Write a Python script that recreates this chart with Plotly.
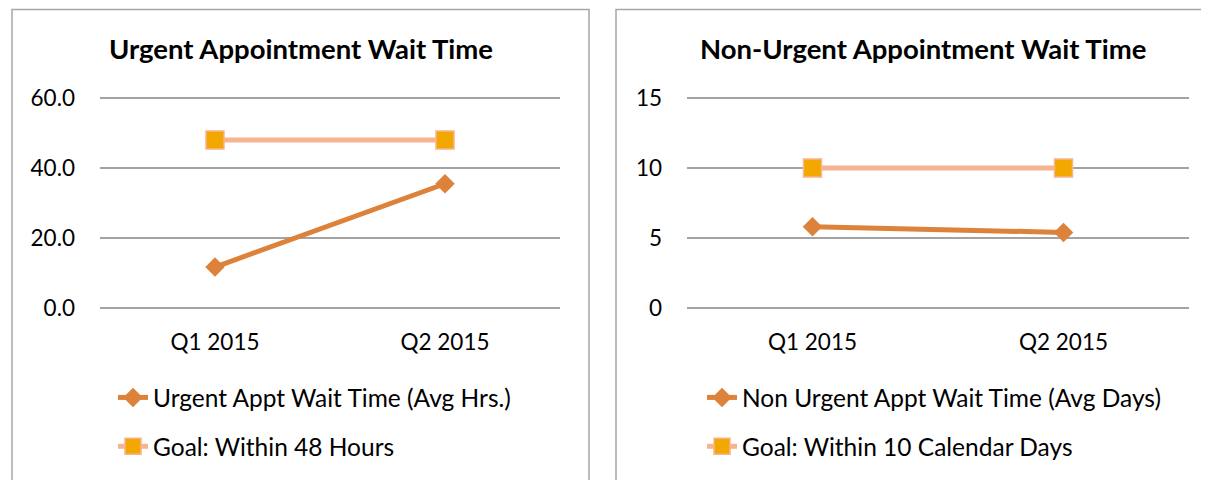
import plotly.graph_objects as go

# ---- data ----
quarters = ["Q1 2015", "Q2 2015"]
urgent_hours = [11.7, 35.5]
urgent_goal = [48, 48]
nonurgent_days = [5.8, 5.4]
nonurgent_goal = [10, 10]

left_title = "Urgent Appointment Wait Time"
right_title = "Non-Urgent Appointment Wait Time"
urgent_name = "Urgent Appt Wait Time (Avg Hrs.)"
urgent_goal_name = "Goal: Within 48 Hours"
nonurgent_name = "Non Urgent Appt Wait Time (Avg Days)"
nonurgent_goal_name = "Goal: Within 10 Calendar Days"

# ---- styling ----
W, H = 1209, 480
OFF = 8  # page body margin
FONT = "Lato"
ORANGE = "#DC823A"
SALMON = "#F7B491"
GOLD = "#F2A800"
GRID = "#A3A3A3"
BORDER = "#A6A6A6"

def px(x):
    return (x - OFF) / W

def py(y):
    return (H - (y - OFF)) / H

fig = go.Figure()

def add_pair(xa, ya, vals, goal, name, gname, legend):
    fig.add_trace(go.Scatter(
        x=quarters, y=vals, name=name, xaxis=xa, yaxis=ya, mode="lines+markers",
        line=dict(color=ORANGE, width=5),
        marker=dict(symbol="diamond", size=15, color=ORANGE, line=dict(width=0)),
        legend=legend, legendgroup=name + "g",
    ))
    fig.add_trace(go.Scatter(
        x=quarters, y=goal, name=gname, xaxis=xa, yaxis=ya, mode="lines+markers",
        line=dict(color=SALMON, width=5),
        marker=dict(symbol="square", size=18, color=GOLD, line=dict(width=1.5, color=SALMON)),
        legend=legend, legendgroup=gname + "g",
    ))

add_pair("x", "y", urgent_hours, urgent_goal, urgent_name, urgent_goal_name, "legend")
add_pair("x2", "y2", nonurgent_days, nonurgent_goal, nonurgent_name, nonurgent_goal_name, "legend2")

EXT = 1.006  # small headroom so the top gridline is drawn
ydom = [py(308), py(308 - 210 * EXT)]
xcommon = dict(type="category", range=[-0.5, 1.5], showgrid=False, zeroline=False,
               showline=False, ticks="outside", ticklen=14, tickcolor="rgba(0,0,0,0)",
               automargin=False,
               tickfont=dict(family=FONT, size=22.5, color="#000"))
ycommon = dict(showgrid=True, gridcolor=GRID, gridwidth=2, zeroline=True,
               zerolinecolor=GRID, zerolinewidth=2, showline=False, ticks="",
               automargin=False,
               tickfont=dict(family=FONT, size=22.5, color="#000"), ticklabelstandoff=24)

legcommon = dict(font=dict(family=FONT, size=24.5, color="#000"), bgcolor="rgba(0,0,0,0)",
                 tracegroupgap=14, xanchor="left", yanchor="top", orientation="v")

fig.update_layout(
    width=W, height=H, margin=dict(l=0, r=0, t=0, b=0, autoexpand=False),
    paper_bgcolor="white", plot_bgcolor="white",
    xaxis=dict(domain=[px(100), px(560)], anchor="y", **xcommon),
    yaxis=dict(domain=ydom, anchor="x", range=[0, 60 * EXT], tickvals=[0, 20, 40, 60],
               tickformat=".1f", **ycommon),
    xaxis2=dict(domain=[px(687), px(1189)], anchor="y2", **xcommon),
    yaxis2=dict(domain=ydom, anchor="x2", range=[0, 15 * EXT], tickvals=[0, 5, 10, 15],
                **ycommon),
    legend=dict(x=px(113), y=py(375), **legcommon),
    legend2=dict(x=px(702), y=py(375), **legcommon),
    showlegend=True,
    shapes=[
        dict(type="rect", xref="paper", yref="paper", x0=px(12), x1=px(589),
             y0=-0.2, y1=py(9.5), line=dict(color=BORDER, width=1.5)),
        dict(type="rect", xref="paper", yref="paper", x0=px(616), x1=px(1240),
             y0=-0.2, y1=py(9.5), line=dict(color=BORDER, width=1.5)),
    ],
    annotations=[
        dict(text="<b>" + left_title + "</b>", xref="paper", yref="paper",
             x=px(300.5), y=py(48), xanchor="center", yanchor="middle", showarrow=False,
             font=dict(family=FONT, size=27.5, color="#000")),
        dict(text="<b>" + right_title + "</b>", xref="paper", yref="paper",
             x=px(923), y=py(48), xanchor="center", yanchor="middle", showarrow=False,
             font=dict(family=FONT, size=27.5, color="#000")),
    ],
)

fig.write_html("out.html")
